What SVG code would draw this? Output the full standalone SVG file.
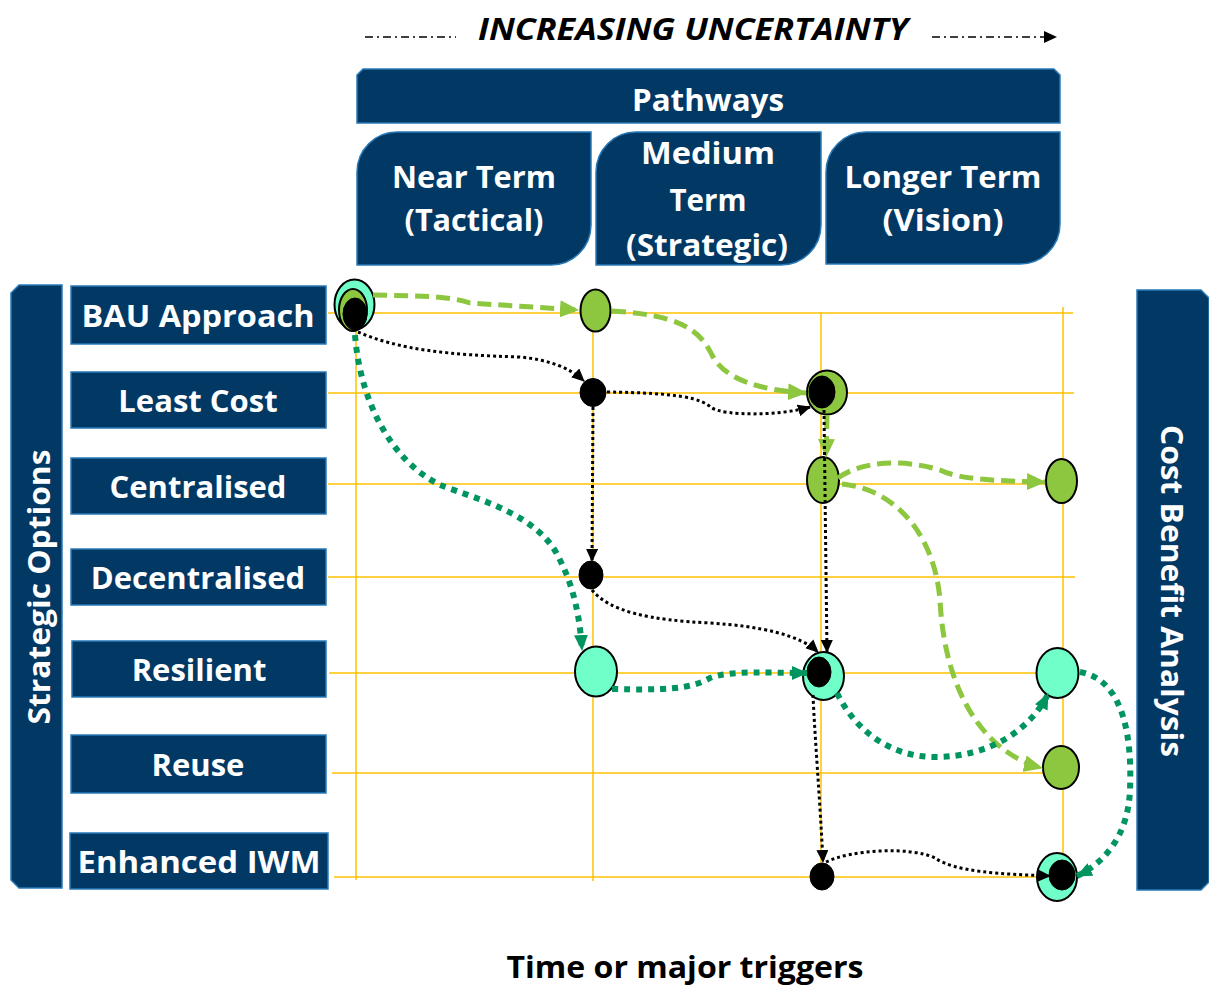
<svg xmlns="http://www.w3.org/2000/svg" width="1209" height="987" viewBox="0 0 1209 987">
<style>
.navy{fill:#023864;stroke:#2a7ab8;stroke-width:1.5}
.lbl{font-family:"Open Sans","Liberation Sans",sans-serif;font-weight:bold;fill:#fff;text-anchor:middle}
.grid{stroke:#FFC000;stroke-width:1.5;fill:none}
.lg{fill:none;stroke:#8DC63F;stroke-width:5;stroke-dasharray:14 7}
.bk{fill:none;stroke:#000;stroke-width:3;stroke-dasharray:3 3}
.dg{fill:none;stroke:#00955F;stroke-width:6;stroke-dasharray:6 6}
.nG{fill:#8DC63F;stroke:#000;stroke-width:2}
.nC{fill:#70FFC8;stroke:#000;stroke-width:2}
.nB{fill:#000;stroke:#000;stroke-width:1}
</style>
<defs>
<marker id="aLG" markerUnits="userSpaceOnUse" markerWidth="19" markerHeight="17" refX="18" refY="8.5" orient="auto"><path d="M0,0 L19,8.5 L0,17 Z" fill="#8DC63F"/></marker>
<marker id="aBK" markerUnits="userSpaceOnUse" markerWidth="13" markerHeight="12" refX="12" refY="6" orient="auto"><path d="M0,0 L13,6 L0,12 Z" fill="#000"/></marker>
<marker id="aDG" markerUnits="userSpaceOnUse" markerWidth="16" markerHeight="14" refX="15" refY="7" orient="auto"><path d="M0,0 L16,7 L0,14 Z" fill="#00955F"/></marker>
</defs>
<rect width="1209" height="987" fill="#fff"/>

<g id="uncertainty">
<line x1="365" y1="37" x2="456" y2="37" stroke="#000" stroke-width="1.5" stroke-dasharray="8 4 2 4"/>
<line x1="932" y1="37" x2="1045" y2="37" stroke="#000" stroke-width="1.5" stroke-dasharray="8 4 2 4"/>
<path d="M1044,31 L1057,37 L1044,43 Z" fill="#000"/>
<text x="693" y="40" font-family="'Open Sans','Liberation Sans',sans-serif" font-weight="bold" font-style="italic" font-size="30" text-anchor="middle" textLength="430" lengthAdjust="spacingAndGlyphs">INCREASING UNCERTAINTY</text>
</g>

<g id="pathways">
<path class="navy" d="M357,75 L363,69 L1054,69 L1060,75 L1060,123 L357,123 Z"/>
<text class="lbl" x="708" y="111" font-size="31" textLength="152" lengthAdjust="spacingAndGlyphs">Pathways</text>
</g>
<g id="near-term">
<path class="navy" d="M357,265 L357,172 A40,40 0 0 1 397,132 L591,132 L591,225 A40,40 0 0 1 551,265 Z"/>
<text class="lbl" x="474" y="188" font-size="31" textLength="164" lengthAdjust="spacingAndGlyphs">Near Term</text>
<text class="lbl" x="474" y="231" font-size="31" textLength="139" lengthAdjust="spacingAndGlyphs">(Tactical)</text>
</g>
<g id="medium-term">
<path class="navy" d="M596,265 L596,172 A40,40 0 0 1 636,132 L821,132 L821,225 A40,40 0 0 1 781,265 Z"/>
<text class="lbl" x="708" y="164" font-size="31" textLength="134" lengthAdjust="spacingAndGlyphs">Medium</text>
<text class="lbl" x="708" y="211" font-size="31" textLength="77" lengthAdjust="spacingAndGlyphs">Term</text>
<text class="lbl" x="707" y="256" font-size="31" textLength="162" lengthAdjust="spacingAndGlyphs">(Strategic)</text>
</g>
<g id="longer-term">
<path class="navy" d="M826,264 L826,172 A40,40 0 0 1 866,132 L1060,132 L1060,224 A40,40 0 0 1 1020,264 Z"/>
<text class="lbl" x="943" y="188" font-size="31" textLength="197" lengthAdjust="spacingAndGlyphs">Longer Term</text>
<text class="lbl" x="943" y="231" font-size="31" textLength="121" lengthAdjust="spacingAndGlyphs">(Vision)</text>
</g>

<g id="strategic-options">
<path class="navy" d="M11,293 L19,285 L62,285 L62,888 L19,888 L11,880 Z"/>
<text class="lbl" transform="translate(50,587) rotate(-90)" font-size="31" textLength="275" lengthAdjust="spacingAndGlyphs">Strategic Options</text>
</g>
<g id="cost-benefit">
<path class="navy" d="M1137,290 L1201,290 L1209,298 L1209,882 L1201,890 L1137,890 Z"/>
<text class="lbl" transform="translate(1161,591) rotate(90)" font-size="31" textLength="332" lengthAdjust="spacingAndGlyphs">Cost Benefit Analysis</text>
</g>

<g id="opt-bau"><rect class="navy" x="71" y="286" width="255" height="58"/><text class="lbl" x="198" y="327" font-size="31" textLength="233" lengthAdjust="spacingAndGlyphs">BAU Approach</text></g>
<g id="opt-least"><rect class="navy" x="71" y="372" width="255" height="56"/><text class="lbl" x="198" y="412" font-size="31">Least Cost</text></g>
<g id="opt-central"><rect class="navy" x="71" y="458" width="255" height="56"/><text class="lbl" x="198" y="498" font-size="31">Centralised</text></g>
<g id="opt-decentral"><rect class="navy" x="71" y="549" width="255" height="56"/><text class="lbl" x="198" y="589" font-size="31">Decentralised</text></g>
<g id="opt-resilient"><rect class="navy" x="72" y="641" width="254" height="56"/><text class="lbl" x="199" y="681" font-size="31">Resilient</text></g>
<g id="opt-reuse"><rect class="navy" x="71" y="735" width="255" height="58"/><text class="lbl" x="198" y="776" font-size="31">Reuse</text></g>
<g id="opt-enhanced"><rect class="navy" x="70" y="833" width="258" height="56"/><text class="lbl" x="199" y="873" font-size="31" textLength="243" lengthAdjust="spacingAndGlyphs">Enhanced IWM</text></g>

<g id="grid">
<line class="grid" x1="328" y1="313" x2="1073" y2="313"/>
<line class="grid" x1="328" y1="393" x2="1074" y2="393"/>
<line class="grid" x1="328" y1="484" x2="1075" y2="484"/>
<line class="grid" x1="328" y1="577" x2="1075" y2="577"/>
<line class="grid" x1="329" y1="673" x2="1075" y2="673"/>
<line class="grid" x1="332" y1="773" x2="1075" y2="773"/>
<line class="grid" x1="334" y1="877" x2="1075" y2="877"/>
<line class="grid" x1="356" y1="300" x2="356" y2="880"/>
<line class="grid" x1="593" y1="300" x2="593" y2="881"/>
<line class="grid" x1="821" y1="313" x2="821" y2="881"/>
<line class="grid" x1="1063" y1="307" x2="1063" y2="881"/>
</g>

<g id="n-bau-1">
<ellipse class="nC" cx="354.5" cy="304.5" rx="20" ry="25"/>
<ellipse class="nG" cx="353" cy="310" rx="14" ry="21" stroke-width="1"/>
<ellipse class="nB" cx="355" cy="314" rx="12" ry="16"/>
</g>
<g id="n-bau-2"><ellipse class="nG" cx="595.5" cy="310.5" rx="15" ry="21"/></g>
<g id="n-least-2"><ellipse class="nB" cx="593" cy="392.5" rx="13" ry="14"/></g>
<g id="n-least-3">
<ellipse class="nG" cx="827" cy="392.5" rx="20" ry="22"/>
<ellipse class="nB" cx="822" cy="392" rx="13" ry="16"/>
</g>
<g id="n-central-3"><ellipse class="nG" cx="823" cy="480" rx="16" ry="23"/></g>
<g id="n-central-4"><ellipse class="nG" cx="1061.5" cy="481" rx="15.5" ry="22"/></g>
<g id="n-decentral-2"><ellipse class="nB" cx="591" cy="575" rx="12" ry="14"/></g>
<g id="n-resilient-2"><ellipse class="nC" cx="596" cy="671.5" rx="21" ry="25"/></g>
<g id="n-resilient-3">
<ellipse class="nC" cx="823.5" cy="676" rx="20.5" ry="24"/>
<ellipse class="nB" cx="819" cy="672" rx="12" ry="15"/>
</g>
<g id="n-resilient-4"><ellipse class="nC" cx="1057.5" cy="673" rx="21" ry="25"/></g>
<g id="n-reuse-4"><ellipse class="nG" cx="1061" cy="767.5" rx="18" ry="21.5"/></g>
<g id="n-enhanced-3"><ellipse class="nB" cx="822" cy="876.5" rx="12" ry="13.5"/></g>
<g id="n-enhanced-4">
<ellipse class="nC" cx="1057" cy="877" rx="20" ry="24"/>
<ellipse class="nB" cx="1062" cy="875" rx="13" ry="15"/>
</g>

<g id="connectors">
<path class="lg" marker-end="url(#aLG)" d="M373,295 C420,296 450,296 470,303 L578,310"/>
<path class="lg" marker-end="url(#aLG)" d="M612,311 C680,315 700,330 712,355 C725,380 760,390 806,393"/>
<path class="lg" marker-end="url(#aLG)" d="M827,415 L826,457"/>
<path class="lg" marker-end="url(#aLG)" d="M838,478 C860,462 900,458 940,470 C960,480 1000,481 1045,482"/>
<path class="lg" marker-end="url(#aLG)" d="M842,484 C900,490 935,540 940,600 C945,700 990,755 1042,768"/>

<path class="bk" marker-end="url(#aBK)" d="M358,332 C400,350 450,355 520,357 C550,360 570,368 584,381"/>
<path class="bk" marker-end="url(#aBK)" d="M607,392 C680,393 700,398 712,408 C725,416 780,416 810,407"/>
<path class="bk" marker-end="url(#aBK)" d="M593,407 L592,561"/>
<path class="bk" marker-end="url(#aBK)" d="M592,590 C610,612 650,620 710,623 C760,626 800,635 818,652"/>
<path class="bk" marker-end="url(#aBK)" d="M824,410 L827,652"/>
<path class="bk" marker-end="url(#aBK)" d="M813,695 C815,740 820,800 823,862"/>
<path class="bk" marker-end="url(#aBK)" d="M826,862 C850,850 910,846 935,858 C955,872 1000,874 1050,876"/>

<path class="dg" marker-end="url(#aDG)" d="M355,335 C360,400 390,460 440,485 C480,500 540,515 560,560 C575,590 580,620 582,650"/>
<path class="dg" marker-end="url(#aDG)" d="M612,689 C660,690 690,690 710,678 C730,670 770,673 807,673"/>
<path class="dg" marker-end="url(#aDG)" d="M837,693 C855,730 890,757 935,757 C990,757 1030,730 1048,694"/>
<path class="dg" marker-end="url(#aDG)" d="M1080,672 C1125,680 1132,740 1130,790 C1128,840 1100,865 1077,876"/>
</g>

<text x="685" y="978" font-family="'Open Sans','Liberation Sans',sans-serif" font-weight="bold" font-size="31" text-anchor="middle" fill="#000" textLength="357" lengthAdjust="spacingAndGlyphs">Time or major triggers</text>
</svg>
